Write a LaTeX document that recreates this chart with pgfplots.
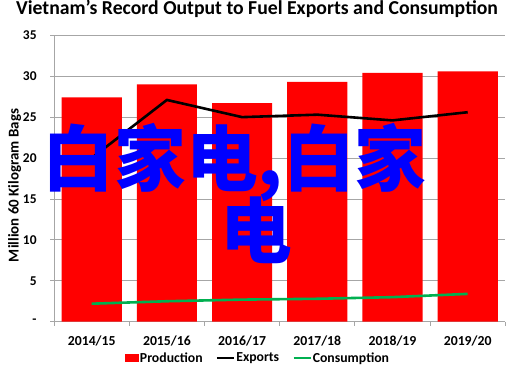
\documentclass[border=0pt]{standalone}
\usepackage{fontspec}
\setmainfont{Carlito}
\newfontfamily\cjk{Noto Sans CJK SC}
\usepackage{pgfplots}
\pgfplotsset{compat=1.18}
\definecolor{barred}{RGB}{255,0,0}
\definecolor{consgreen}{RGB}{0,176,80}
\definecolor{gridgray}{RGB}{166,166,166}
\definecolor{cjkblue}{RGB}{0,0,255}
\begin{document}
\begin{tikzpicture}
\begin{axis}[
  name=ax,
  scale only axis,
  width=451.2bp, height=286.4bp,
  xmin=-0.5, xmax=5.5, ymin=0, ymax=35,
  axis x line*=bottom, axis y line*=left,
  axis line style={-, draw=gridgray, line width=0.8bp},
  tick align=outside,
  xtick={0,1,2,3,4,5},
  xticklabels={2014/15,2015/16,2016/17,2017/18,2018/19,2019/20},
  major x tick style={draw=none},
  minor xtick={-0.5,0.5,1.5,2.5,3.5,4.5,5.5},
  minor x tick style={draw=gridgray, line width=0.8bp},
  minor tick length=4bp,
  ytick={0,5,10,15,20,25,30,35},
  yticklabels={-,5,10,15,20,25,30,35},
  major y tick style={draw=gridgray, line width=0.8bp},
  major tick length=4bp,
  ymajorgrids,
  grid style={draw=gridgray, line width=0.8bp},
  xticklabel style={font=\bfseries\fontsize{13.8}{15}\selectfont, yshift=-6.5bp},
  yticklabel style={font=\bfseries\fontsize{13.5}{15}\selectfont, xshift=-10bp},
  /pgf/number format/assume math mode=true,
  ylabel={Million 60 Kilogram Bags},
  ylabel style={at={(rel axis cs:-0.0873,0.4756)}, anchor=center, font=\bfseries\fontsize{15}{16}\selectfont},
  title={Vietnam’s Record Output to Fuel Exports and Consumption},
  title style={at={(rel axis cs:0.4497,1)}, anchor=base, yshift=14.6bp, font=\bfseries\fontsize{19.8}{21}\selectfont},
  legend columns=3,
  legend style={at={(rel axis cs:0.4508,-0.1267)}, anchor=center, draw=none, fill=none,
    font=\bfseries\fontsize{13.8}{15}\selectfont,
    nodes={inner xsep=1bp, inner ysep=1bp},
    /tikz/every even column/.append style={column sep=12bp}},
  clip=false,
]
\addplot[ybar, bar width=0.8, fill=barred, draw=none,
  legend image code/.code={\fill[barred] (0bp,-4bp) rectangle (14bp,4bp);}]
  coordinates {(0,27.4) (1,29.0) (2,26.7) (3,29.3) (4,30.4) (5,30.6)};
\addlegendentry{Production}
\addplot[black, line width=2.6bp, mark=none,
  legend image code/.code={\draw[black, line width=2.6bp] (0bp,0bp) -- (17bp,0bp);}]
  coordinates {(0,20.0) (1,27.1) (2,25.0) (3,25.3) (4,24.6) (5,25.6)};
\addlegendentry{Exports}
\addplot[consgreen, line width=2.6bp, mark=none,
  legend image code/.code={\draw[consgreen, line width=2.6bp] (0bp,0bp) -- (17bp,0bp);}]
  coordinates {(0,2.2) (1,2.5) (2,2.7) (3,2.8) (4,3.0) (5,3.4)};
\addlegendentry{Consumption}
\node[font=\cjk\bfseries\fontsize{72}{72}\selectfont, text=cjkblue, inner sep=0pt, anchor=center] at (axis cs:1.90,19.5) {白家电,白家};
\node[font=\cjk\bfseries\fontsize{72}{72}\selectfont, text=cjkblue, inner sep=0pt, anchor=center] at (axis cs:2.19,11.2) {电};
\end{axis}
\pgfresetboundingbox
\path (ax.south west) ++(-54.1bp,-48.3bp) rectangle ++(513bp,370bp);
\end{tikzpicture}
\end{document}
